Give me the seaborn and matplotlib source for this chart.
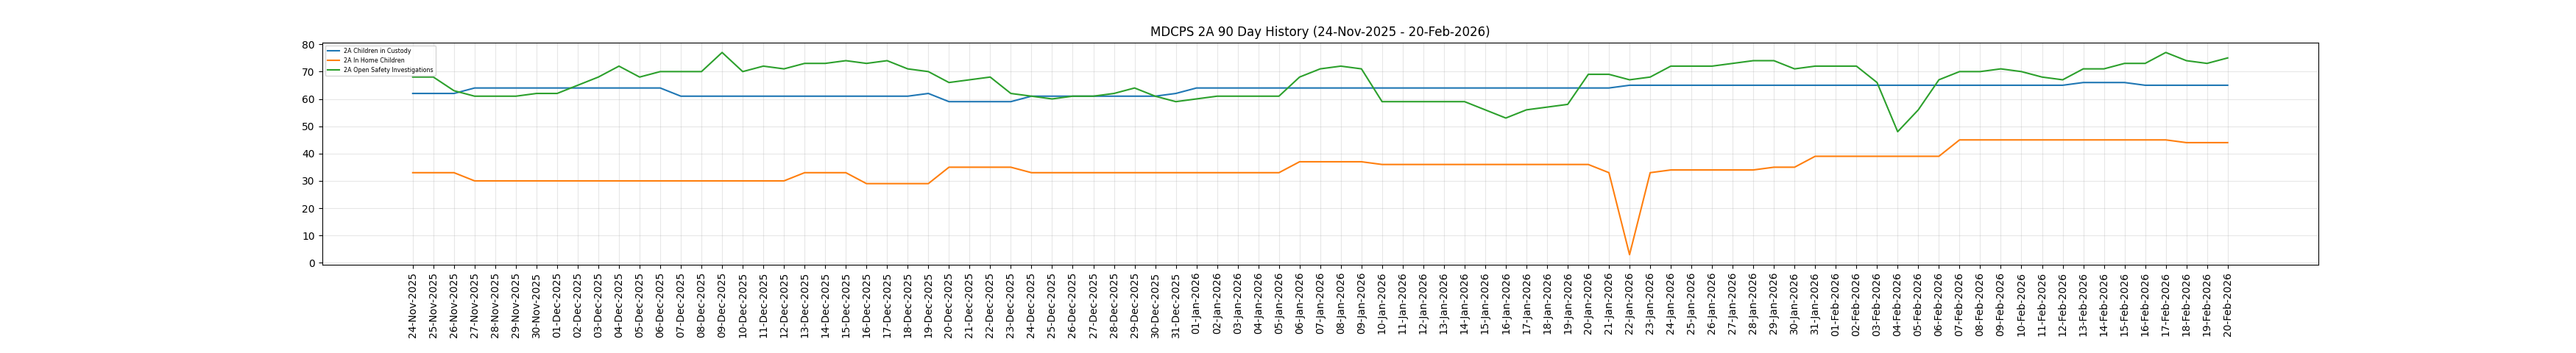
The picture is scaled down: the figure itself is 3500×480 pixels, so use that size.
import pandas as pd
import seaborn as sns
import matplotlib
matplotlib.use("Agg")
import matplotlib.pyplot as plt

dates = pd.date_range("2025-11-24", "2026-02-20", freq="D").strftime("%d-%b-%Y").tolist()

custody = [62, 62, 62, 64, 64, 64, 64, 64, 64, 64, 64, 64, 64, 61, 61, 61, 61, 61, 61, 61,
           61, 61, 61, 61, 61, 62, 59, 59, 59, 59, 61, 61, 61, 61, 61, 61, 61, 62, 64, 64,
           64, 64, 64, 64, 64, 64, 64, 64, 64, 64, 64, 64, 64, 64, 64, 64, 64, 64, 64, 65,
           65, 65, 65, 65, 65, 65, 65, 65, 65, 65, 65, 65, 65, 65, 65, 65, 65, 65, 65, 65,
           65, 66, 66, 66, 65, 65, 65, 65, 65]

in_home = [33, 33, 33, 30, 30, 30, 30, 30, 30, 30, 30, 30, 30, 30, 30, 30, 30, 30, 30, 33,
           33, 33, 29, 29, 29, 29, 35, 35, 35, 35, 33, 33, 33, 33, 33, 33, 33, 33, 33, 33,
           33, 33, 33, 37, 37, 37, 37, 36, 36, 36, 36, 36, 36, 36, 36, 36, 36, 36, 33, 3,
           33, 34, 34, 34, 34, 34, 35, 35, 39, 39, 39, 39, 39, 39, 39, 45, 45, 45, 45, 45,
           45, 45, 45, 45, 45, 45, 44, 44, 44]

investigations = [68, 68, 63, 61, 61, 61, 62, 62, 65, 68, 72, 68, 70, 70, 70, 77, 70, 72, 71, 73,
                  73, 74, 73, 74, 71, 70, 66, 67, 68, 62, 61, 60, 61, 61, 62, 64, 61, 59, 60, 61,
                  61, 61, 61, 68, 71, 72, 71, 59, 59, 59, 59, 59, 56, 53, 56, 57, 58, 69, 69, 67,
                  68, 72, 72, 72, 73, 74, 74, 71, 72, 72, 72, 66, 48, 56, 67, 70, 70, 71, 70, 68,
                  67, 71, 71, 73, 73, 77, 74, 73, 75]

df = pd.DataFrame({
    "date": dates * 3,
    "value": custody + in_home + investigations,
    "series": (["2A Children in Custody"] * len(dates)
               + ["2A In Home Children"] * len(dates)
               + ["2A Open Safety Investigations"] * len(dates)),
})

fig, ax = plt.subplots(figsize=(35, 4.8), dpi=100)
fig.subplots_adjust(left=0.125, right=0.9, top=0.88, bottom=0.25)

sns.lineplot(data=df, x="date", y="value", hue="series", ax=ax,
             palette=["#1f77b4", "#ff7f0e", "#2ca02c"], linewidth=1.5)

ax.set_title("MDCPS 2A 90 Day History (24-Nov-2025 - 20-Feb-2026)")
ax.set_xlabel("")
ax.set_ylabel("")
ax.tick_params(axis="x", rotation=90)
ax.grid(True, alpha=0.3)
ax.legend(loc="upper left", fontsize="xx-small")

plt.savefig("out.png", dpi=100)
